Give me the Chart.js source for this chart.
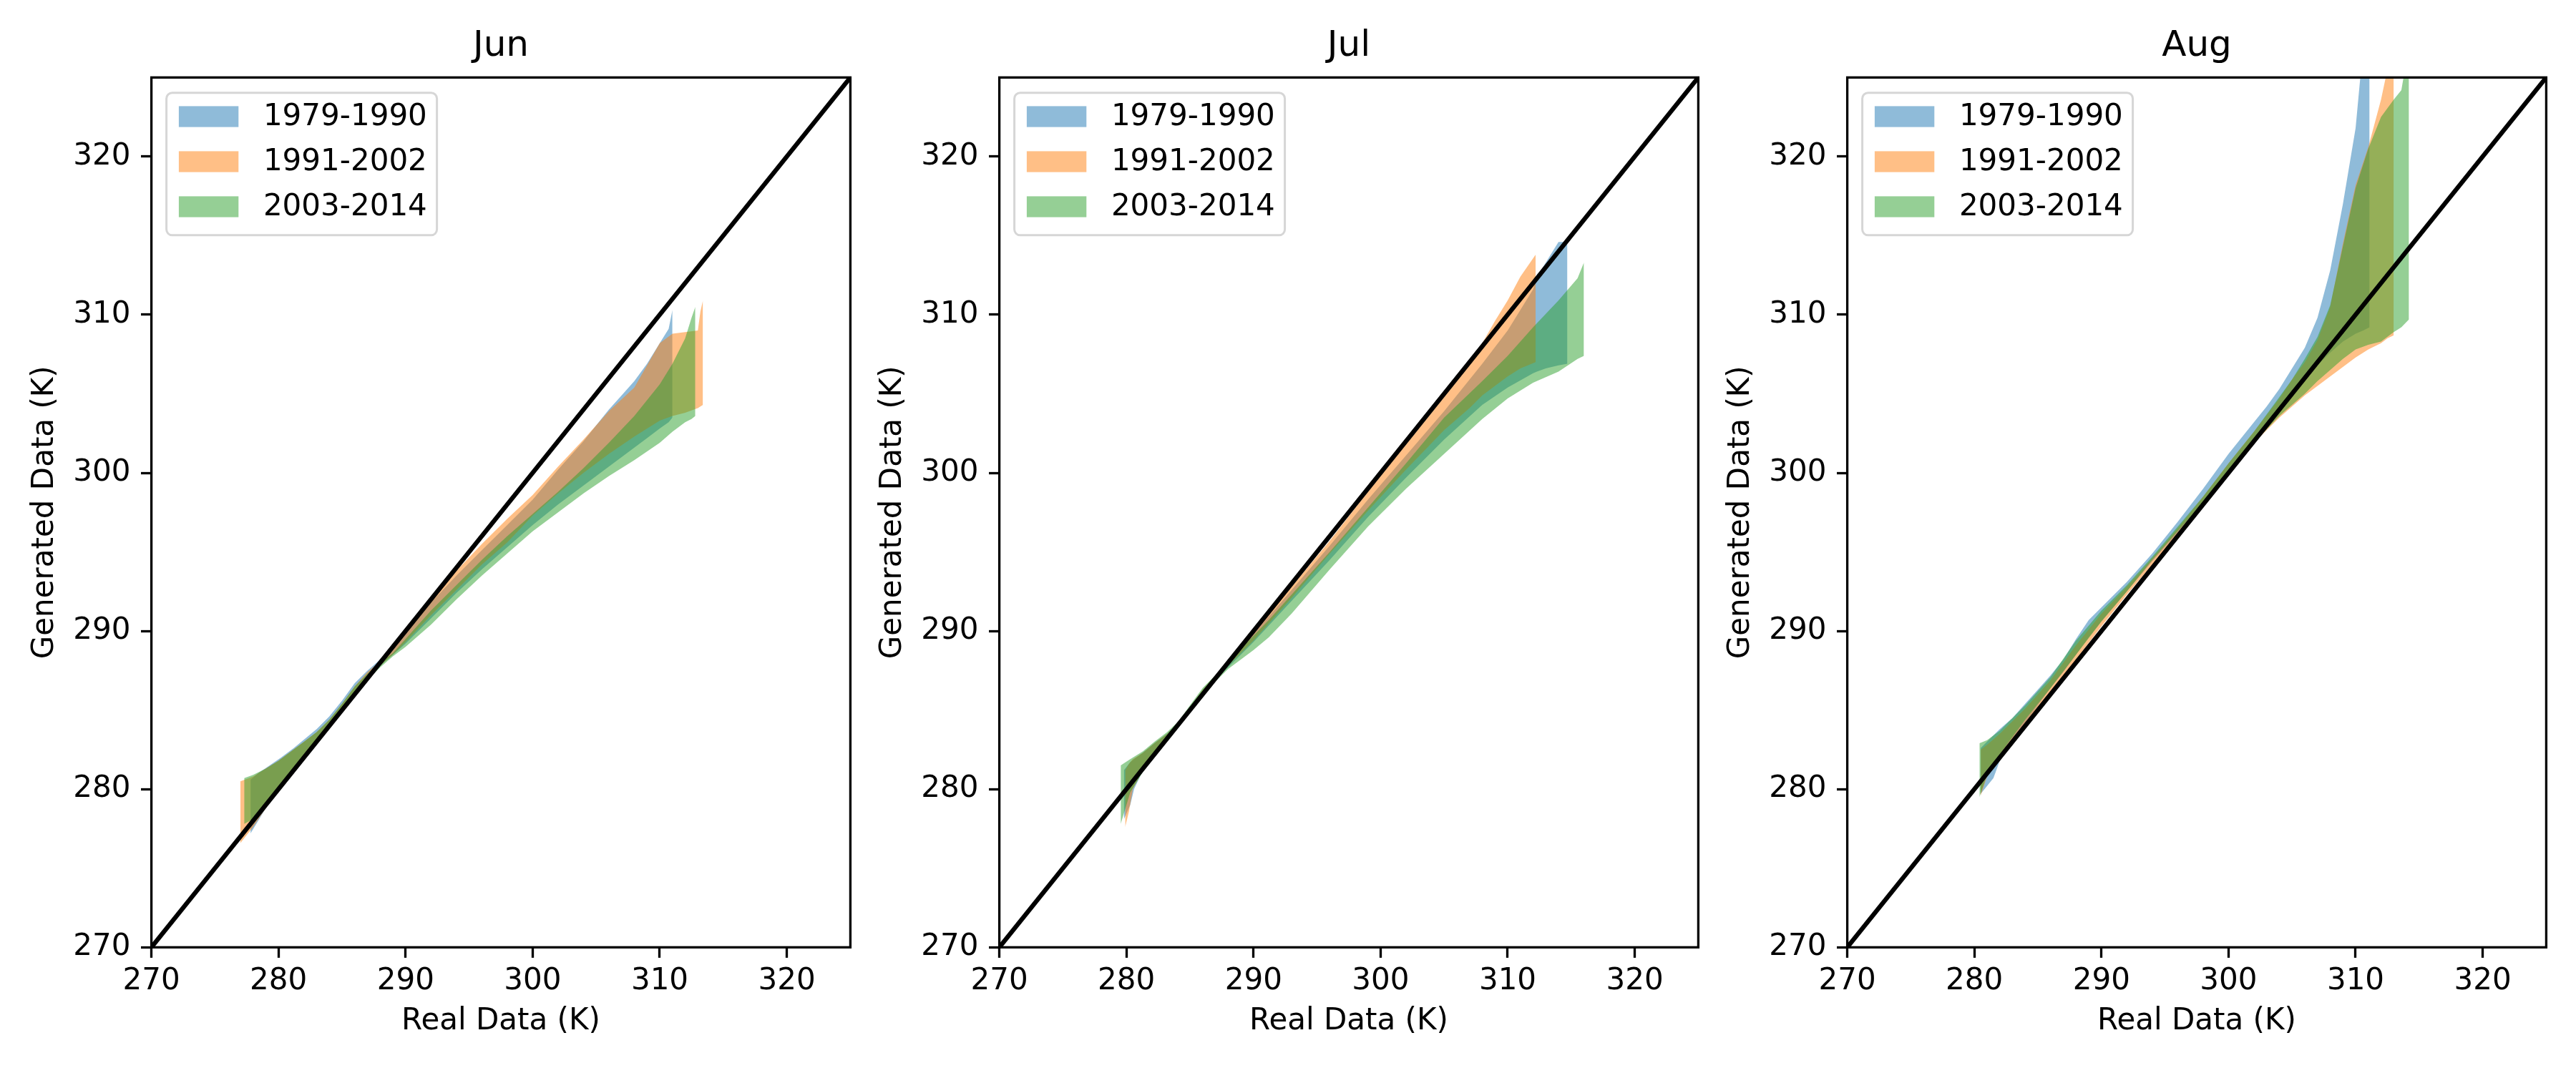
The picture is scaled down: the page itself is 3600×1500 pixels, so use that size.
<!DOCTYPE html>
<html>
<head>
<meta charset="utf-8">
<script src="https://cdn.jsdelivr.net/npm/chart.js@4.4.1/dist/chart.umd.min.js"></script>
<style>
  html,body{margin:0;padding:0;background:#fff;overflow:hidden;}
  canvas{position:absolute;top:0;}
</style>
</head>
<body>
<canvas id="c0" width="1200" height="1500" style="left:0px"></canvas>
<canvas id="c1" width="1200" height="1500" style="left:1185px"></canvas>
<canvas id="c2" width="1200" height="1500" style="left:2370px"></canvas>
<script>
// panels / legend labels / ticks
const months = ["Jun", "Jul", "Aug"];
const periods = ["1979-1990", "1991-2002", "2003-2014"];
const tickVals = [270, 280, 290, 300, 310, 320];
const diagX = [270, 325];

// Jun: band x, upper edge, lower edge
const junBlueX  = [277.8, 278.4, 279.3, 280.2, 281.2, 282.1, 283, 284, 285, 286, 287, 288, 289, 290, 292, 294, 296, 298, 300, 302, 304, 306, 307, 308, 309, 310, 310.7, 311.0];
const junBlueHi = [280.6, 281.0, 281.5, 282.0, 282.6, 283.2, 283.8, 284.6, 285.6, 286.7, 287.5, 288.2, 288.8, 289.8, 291.8, 293.5, 295.1, 296.7, 298.3, 300.2, 302.0, 304.0, 304.9, 305.8, 306.9, 308.2, 309.1, 310.3];
const junBlueLo = [277.2, 278.0, 279.2, 280.1, 281.1, 282.0, 282.9, 283.9, 284.9, 285.9, 286.9, 287.8, 288.5, 289.2, 290.8, 292.4, 293.9, 295.3, 296.7, 298.0, 299.2, 300.4, 301.0, 301.6, 302.2, 302.8, 303.2, 303.5];
const junOrangeX  = [277.0, 278, 279, 280, 281, 282, 283, 284, 285, 286, 287, 288, 289, 290, 292, 294, 296, 298, 300, 302, 304, 306, 308, 310, 311, 312, 313, 313.2, 313.4];
const junOrangeHi = [280.5, 280.8, 281.3, 281.8, 282.4, 283.0, 283.6, 284.4, 285.4, 286.5, 287.4, 288.1, 288.8, 289.9, 291.9, 293.8, 295.5, 297.1, 298.6, 300.4, 302.1, 303.9, 305.4, 308.2, 308.8, 308.9, 309.0, 310.2, 310.9];
const junOrangeLo = [276.6, 277.6, 278.8, 279.9, 280.9, 281.9, 282.9, 283.9, 284.9, 285.9, 286.9, 287.8, 288.5, 289.3, 291.0, 292.6, 294.2, 295.6, 297.3, 298.7, 300.0, 301.2, 302.3, 303.3, 303.6, 303.8, 304.1, 304.2, 304.3];
const junGreenX  = [277.3, 278, 279, 280, 281, 282, 283, 284, 285, 286, 287, 288, 289, 290, 292, 294, 296, 298, 300, 302, 304, 306, 308, 310, 311, 312, 312.5, 312.8];
const junGreenHi = [280.7, 280.9, 281.3, 281.8, 282.4, 283.0, 283.6, 284.4, 285.4, 286.5, 287.3, 288.0, 288.6, 289.5, 291.3, 292.9, 294.5, 296.0, 297.4, 298.8, 300.3, 301.9, 303.6, 305.6, 306.9, 308.5, 309.8, 310.5];
const junGreenLo = [277.8, 278.1, 279.0, 280.0, 281.0, 282.0, 283.0, 284.0, 285.0, 286.0, 286.9, 287.7, 288.4, 289.0, 290.4, 292.0, 293.5, 294.9, 296.3, 297.5, 298.7, 299.8, 300.8, 301.9, 302.6, 303.2, 303.4, 303.6];

// Jul
const julBlueX  = [279.8, 280.3, 280.6, 281.3, 282.2, 283.2, 284.1, 285, 286, 287, 288, 289, 290, 293, 296, 299, 302, 305, 308, 310, 312, 312.3, 313, 314, 314.7];
const julBlueHi = [281.2, 281.7, 281.9, 282.3, 282.9, 283.5, 284.2, 285.2, 286.3, 287.2, 288.0, 288.9, 289.8, 292.6, 295.4, 298.3, 301.1, 303.9, 306.9, 309.0, 311.6, 312.4, 313.3, 314.6, 314.6];
const julBlueLo = [278.1, 279.0, 280.0, 281.2, 282.1, 283.1, 284.0, 284.9, 285.9, 286.9, 287.7, 288.5, 289.3, 291.9, 294.5, 297.2, 299.7, 302.1, 304.3, 305.4, 306.3, 306.4, 306.6, 306.8, 306.9];
const julOrangeX  = [279.9, 280.2, 280.5, 281.3, 282.2, 283.2, 284.1, 285, 286, 287, 288, 289, 290, 293, 296, 299, 302, 305, 307, 308, 309, 310, 311, 312.2];
const julOrangeHi = [281.2, 281.6, 281.9, 282.3, 282.9, 283.5, 284.2, 285.2, 286.3, 287.2, 288.0, 288.9, 289.9, 292.8, 295.7, 298.8, 301.8, 304.8, 306.9, 308.2, 309.6, 310.9, 312.4, 313.8];
const julOrangeLo = [277.6, 278.6, 280.0, 281.2, 282.1, 283.1, 284.0, 284.9, 285.9, 286.9, 287.8, 288.6, 289.4, 292.1, 294.9, 297.6, 300.2, 302.7, 304.1, 304.9, 305.5, 306.1, 306.6, 307.0];
const julGreenX  = [279.55, 280.3, 281.3, 282.2, 283.2, 284.1, 285, 286, 287, 288, 289, 290, 291.2, 293, 296, 299, 302, 305, 308, 310, 312, 314, 315.5, 316.0];
const julGreenHi = [281.5, 281.9, 282.4, 283.0, 283.6, 284.3, 285.3, 286.4, 287.2, 288.0, 288.9, 289.7, 290.7, 292.3, 295.0, 297.8, 300.6, 303.5, 305.8, 307.4, 309.2, 310.9, 312.3, 313.3];
const julGreenLo = [277.8, 279.8, 281.1, 282.1, 283.1, 284.0, 284.9, 285.8, 286.8, 287.6, 288.2, 288.8, 289.6, 291.1, 293.9, 296.6, 299.0, 301.2, 303.4, 304.7, 305.7, 306.4, 307.2, 307.4];

// Aug
const augBlueX  = [280.5, 281.5, 282, 283, 284, 285, 286, 287, 288, 289, 290, 292, 294, 296, 298, 300, 302, 303, 304, 305, 306, 307, 308, 309, 310, 310.6, 311.1];
const augBlueHi = [282.6, 283.4, 283.8, 284.5, 285.4, 286.3, 287.2, 288.2, 289.5, 290.7, 291.5, 293.1, 294.9, 296.9, 299.0, 301.2, 303.2, 304.2, 305.3, 306.6, 307.9, 309.8, 312.8, 317.0, 321.8, 327.0, 328.0];
const augBlueLo = [279.7, 280.7, 281.8, 283.0, 284.2, 285.3, 286.4, 287.4, 288.5, 289.6, 290.6, 292.5, 294.4, 296.2, 298.1, 300.1, 302.1, 303.1, 304.0, 304.9, 305.8, 306.8, 307.6, 308.3, 308.8, 309.0, 309.2];
const augOrangeX  = [280.5, 281, 282, 284, 286, 288, 290, 292, 294, 296, 298, 300, 302, 304, 305, 306, 307, 308, 309, 310, 311, 312, 312.5, 313.0];
const augOrangeHi = [282.5, 282.8, 283.5, 285.1, 286.9, 289.1, 291.1, 292.8, 294.6, 296.5, 298.5, 300.6, 302.6, 304.7, 305.9, 307.0, 308.4, 310.5, 314.5, 318.2, 320.6, 323.6, 325.5, 327.0];
const augOrangeLo = [279.6, 280.8, 281.9, 284.1, 286.1, 288.2, 290.3, 292.3, 294.2, 296.1, 297.9, 299.9, 301.9, 303.5, 304.2, 304.9, 305.5, 306.1, 306.7, 307.3, 307.8, 308.2, 308.5, 308.7];
const augGreenX  = [280.4, 281, 282, 284, 286, 288, 290, 292, 294, 296, 298, 300, 302, 304, 305, 306, 307, 308, 309, 310, 311, 312, 313, 313.6, 314.2];
const augGreenHi = [282.9, 283.1, 283.7, 285.3, 287.1, 289.4, 291.3, 292.9, 294.7, 296.6, 298.5, 300.6, 302.6, 304.8, 305.9, 307.2, 308.6, 310.6, 314.3, 318.0, 320.5, 322.5, 323.6, 324.2, 327.0];
const augGreenLo = [279.5, 280.9, 282.2, 284.4, 286.4, 288.5, 290.6, 292.5, 294.5, 296.3, 298.1, 299.9, 301.9, 303.6, 304.3, 305.0, 305.8, 306.5, 307.2, 307.8, 308.1, 308.3, 308.9, 309.2, 309.7];

const panelBands = [
  [[junBlueX, junBlueHi, junBlueLo], [junOrangeX, junOrangeHi, junOrangeLo], [junGreenX, junGreenHi, junGreenLo]],
  [[julBlueX, julBlueHi, julBlueLo], [julOrangeX, julOrangeHi, julOrangeLo], [julGreenX, julGreenHi, julGreenLo]],
  [[augBlueX, augBlueHi, augBlueLo], [augOrangeX, augOrangeHi, augOrangeLo], [augGreenX, augGreenHi, augGreenLo]]
];
const fills = ["rgba(31,119,180,0.5)", "rgba(255,127,14,0.5)", "rgba(44,160,44,0.5)"];

Chart.defaults.font.family = "'DejaVu Sans', sans-serif";
Chart.defaults.font.size = 42;
Chart.defaults.color = "#000";

const pts = (xs, ys) => xs.map((x, i) => ({x: x, y: ys[i]}));

// spines all round, like matplotlib
const frame = {
  id: "frame",
  afterDatasetsDraw(chart){
    const a = chart.chartArea, c = chart.ctx;
    c.save(); c.strokeStyle = "#000"; c.lineWidth = 3.3;
    c.strokeRect(a.left, a.top, a.right - a.left, a.bottom - a.top);
    c.restore();
  }
};

// legend box in upper-left of the axes
const boxLegend = {
  id: "boxLegend",
  afterDraw(chart){
    const a = chart.chartArea, c = chart.ctx;
    const items = chart.data.datasets.filter(d => d.legend);
    c.save();
    c.beginPath();
    c.roundRect(a.left + 21, a.top + 21.5, 378, 199, 8);
    c.fillStyle = "rgba(255,255,255,0.8)"; c.fill();
    c.strokeStyle = "#d6d6d6"; c.lineWidth = 3; c.stroke();
    c.font = "42px 'DejaVu Sans'"; c.textBaseline = "middle"; c.textAlign = "left";
    items.forEach((d, i) => {
      const cy = a.top + 54.7 + 63 * i;
      c.fillStyle = d.backgroundColor;
      c.fillRect(a.left + 38.3, cy - 14.6, 83.4, 29.2);
      c.fillStyle = "#000";
      c.fillText(d.label, a.left + 156.3, cy + 1);
    });
    c.restore();
  }
};

const axisOpts = (title, isX) => ({
  type: "linear", min: 270, max: 325,
  afterBuildTicks: s => { s.ticks = tickVals.map(v => ({value: v})); },
  afterFit: s => { if (isX) s.height = 175.7; else s.width = 211.6; },
  border: {display: false},
  grid: {drawOnChartArea: false, drawTicks: true, tickLength: 14.6, tickWidth: 3.3, tickColor: "#000"},
  ticks: {padding: isX ? 8 : 14.6, color: "#000", font: {size: 42}},
  title: {display: true, text: title, color: "#000", font: {size: 42},
          padding: isX ? {top: 0, bottom: 46.8} : {top: 37.8, bottom: 0}}
});

months.forEach((m, p) => {
  const ds = [];
  panelBands[p].forEach((b, k) => {
    ds.push({label: periods[k], legend: true, data: pts(b[0], b[1]), fill: 2 * k + 1,
      backgroundColor: fills[k], borderColor: "transparent", borderWidth: 0, pointRadius: 0, order: 3 - k});
    ds.push({label: "", data: pts(b[0], b[2]), fill: false,
      borderColor: "transparent", borderWidth: 0, pointRadius: 0, order: 3 - k});
  });
  ds.push({label: "", data: pts(diagX, diagX), fill: false, borderColor: "#000",
    borderWidth: 6.25, pointRadius: 0, order: 0});

  new Chart(document.getElementById("c" + p), {
    type: "line",
    data: {datasets: ds},
    options: {
      responsive: false, animation: false, devicePixelRatio: 1, events: [],
      layout: {padding: {top: 0, right: 11.6, bottom: 0, left: 0}},
      plugins: {
        legend: {display: false}, tooltip: {enabled: false},
        title: {display: true, text: m, fullSize: false, color: "#000",
                font: {size: 50, weight: "normal", lineHeight: 1.2}, padding: {top: 35, bottom: 13.3}}
      },
      scales: {x: axisOpts("Real Data (K)", true), y: axisOpts("Generated Data (K)", false)}
    },
    plugins: [frame, boxLegend]
  });
});
</script>
</body>
</html>
